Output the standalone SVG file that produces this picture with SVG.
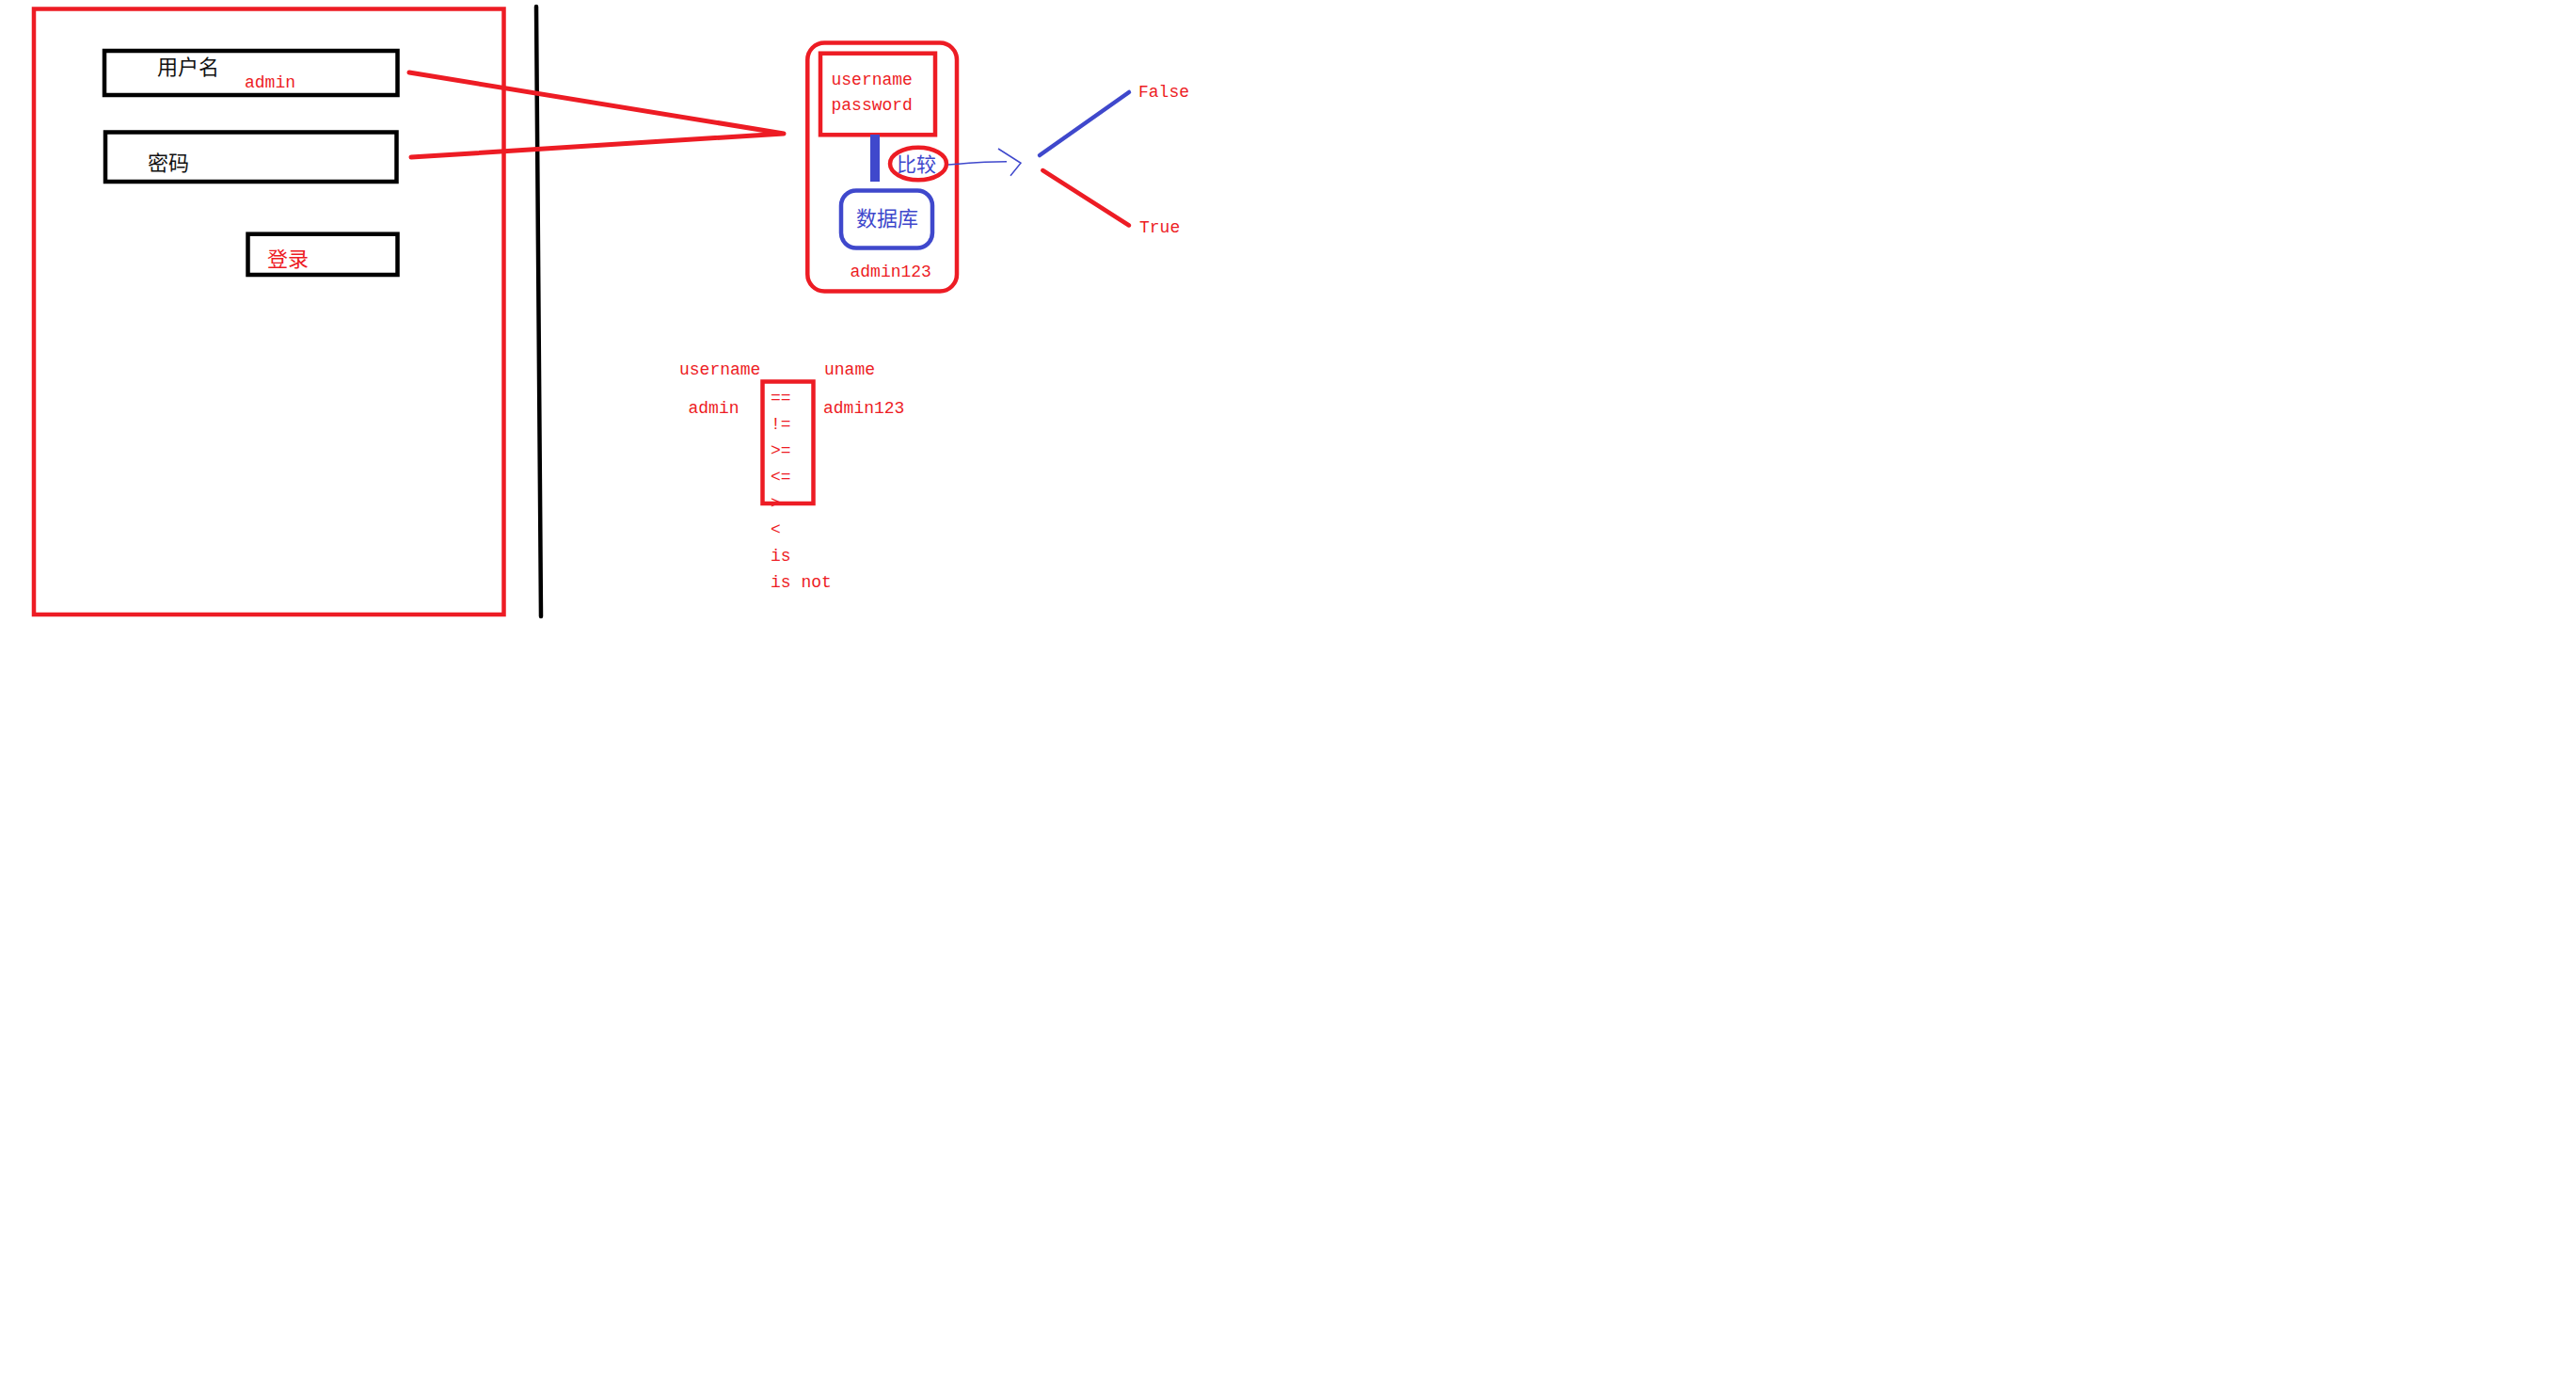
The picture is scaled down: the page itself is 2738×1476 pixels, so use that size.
<svg xmlns="http://www.w3.org/2000/svg" width="2738" height="1476" viewBox="0 0 2738 1476">
<style>
.red{fill:none;stroke:#ED1C24;stroke-width:4.5}
.blk{fill:none;stroke:#000;stroke-width:4.5}
.blu{fill:none;stroke:#3F48CC;stroke-width:4.5}
.cjk{font-family:"Noto Sans CJK SC","Noto Sans",sans-serif;font-size:22px}
.mono{font-family:"Liberation Mono","DejaVu Sans Mono",monospace;font-size:18px;fill:#ED1C24}
.tr{fill:#ED1C24}
.tb{fill:#3F48CC}
.tk{fill:#111}
</style>
<rect width="2738" height="1476" fill="#fff"/>
<g id="login-form">
<rect class="red" x="36" y="9.5" width="499.5" height="643.5"/>
</g>
<g id="username-field">
<rect class="blk" x="111" y="54" width="311.5" height="47"/>
<text class="cjk tk" x="167" y="79">用户名</text>
<text class="mono" x="260" y="93">admin</text>
</g>
<g id="password-field">
<rect class="blk" x="112" y="140.5" width="309.5" height="52.5"/>
<text class="cjk tk" x="157" y="180.5">密码</text>
</g>
<g id="login-button">
<rect class="blk" x="263.5" y="248.7" width="159" height="43.3"/>
<text class="cjk tr" x="284" y="282.5">登录</text>
</g>
<g id="divider">
<line x1="570" y1="7" x2="575" y2="655" stroke="#000" stroke-width="4.5" stroke-linecap="round"/>
</g>
<g id="server">
<rect class="red" x="858.3" y="45.5" width="158.7" height="264" rx="18"/>
</g>
<g id="credentials">
<rect class="red" x="872" y="56.7" width="122" height="86.6"/>
<text class="mono" x="883.5" y="90">username</text>
<text class="mono" x="883.5" y="117">password</text>
</g>
<g id="compare">
<ellipse class="red" cx="976" cy="174" rx="30" ry="17.3"/>
<text class="cjk tb" x="953" y="181.5" style="font-size:21px">比较</text>
</g>
<g id="database">
<rect class="blu" x="894" y="202.5" width="97" height="61" rx="16"/>
<text class="cjk tb" x="910" y="240">数据库</text>
<text class="mono" x="903.5" y="294">admin123</text>
</g>
<g id="false-label">
<text class="mono" x="1210" y="103">False</text>
</g>
<g id="true-label">
<text class="mono" x="1211" y="246.5">True</text>
</g>
<g id="operators">
<text class="mono" x="722" y="398">username</text>
<text class="mono" x="876" y="398">uname</text>
<text class="mono" x="731.5" y="439">admin</text>
<text class="mono" x="875" y="439">admin123</text>
<text class="mono" x="819" y="428">==</text>
<text class="mono" x="819" y="456">!=</text>
<text class="mono" x="819" y="483.5">&gt;=</text>
<text class="mono" x="819" y="511.5">&lt;=</text>
<text class="mono" x="819" y="539.5">&gt;</text>
<text class="mono" x="819" y="568">&lt;</text>
<text class="mono" x="819" y="596">is</text>
<text class="mono" x="819" y="624">is not</text>
<rect class="red" x="810.5" y="405.5" width="54" height="129.5"/>
</g>
<g id="connectors">
<polyline points="435,77 833,142 437,167" fill="none" stroke="#ED1C24" stroke-width="5" stroke-linecap="round" stroke-linejoin="round"/>
<rect x="925" y="143" width="10" height="50" fill="#3F48CC"/>
<polyline points="1008,175 1030,173.3 1046.7,172.3 1070,171.7" fill="none" stroke="#3F48CC" stroke-width="1.5"/>
<polyline points="1061,158 1085,173.3 1074,186.7" fill="none" stroke="#3F48CC" stroke-width="1.5"/>
<line x1="1105" y1="165" x2="1200" y2="98" stroke="#3F48CC" stroke-width="4.5" stroke-linecap="round"/>
<line x1="1108.3" y1="181" x2="1200" y2="239.5" stroke="#ED1C24" stroke-width="4.5" stroke-linecap="round"/>
</g>
</svg>
